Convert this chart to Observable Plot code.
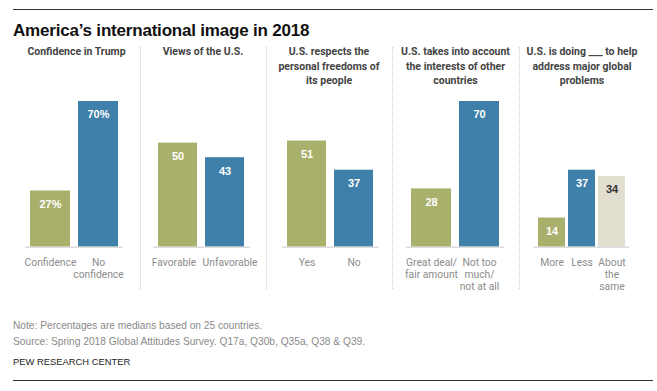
<!DOCTYPE html>
<html>
<head>
<meta charset="utf-8">
<script src="https://cdn.jsdelivr.net/npm/d3@7"></script>
<script src="https://cdn.jsdelivr.net/npm/@observablehq/plot@0.6"></script>
<style>
  html, body { margin: 0; padding: 0; background: #fff; }
  body { width: 657px; height: 391px; position: relative; overflow: hidden; font-family: "Liberation Sans", Arial, sans-serif; }
  .abs { position: absolute; }
  .rule { position: absolute; left: 13px; width: 640px; height: 0; border-top: 1.5px solid #333; z-index: 10; }
  #title { left: 13px; top: 20px; font-size: 17px; line-height: 22px; font-weight: bold; color: #111; letter-spacing: -0.2px; white-space: nowrap; }
  .ptitle { position: absolute; top: 45px; width: 126px; text-align: center; font-family: Roboto, "Liberation Sans", sans-serif; font-size: 10.5px; line-height: 14.5px; font-weight: bold; color: #444; white-space: pre-line; }
  .divider { position: absolute; top: 47px; height: 242px; width: 0; border-left: 1px dotted #cfcfcf; }
  .note { position: absolute; left: 13px; font-size: 10.2px; line-height: 16px; color: #8a8a8a; white-space: nowrap; }
  #pew { position: absolute; left: 13px; top: 355px; font-size: 9.4px; line-height: 14px; color: #222; white-space: nowrap; }
</style>
</head>
<body>
<script>
// ---- data ----
const chartTitle = "America\u2019s international image in 2018";
const panelTitles = [
  "Confidence in Trump",
  "Views of the U.S.",
  "U.S. respects the\npersonal freedoms of\nits people",
  "U.S. takes into account\nthe interests of other\ncountries",
  "U.S. is doing ___ to help\naddress major global\nproblems"
];
const categories = [
  ["Confidence", "No\nconfidence"],
  ["Favorable", "Unfavorable"],
  ["Yes", "No"],
  ["Great deal/\nfair amount", "Not too\nmuch/\nnot at all"],
  ["More", "Less", "About\nthe\nsame"]
];
const values = [
  [27, 70],
  [50, 43],
  [51, 37],
  [28, 70],
  [14, 37, 34]
];
const kinds = [
  ["pos", "neg"],
  ["pos", "neg"],
  ["pos", "neg"],
  ["pos", "neg"],
  ["pos", "neg", "neutral"]
];
const valueSuffix = ["%", "", "", "", ""];
const noteLines = [
  "Note: Percentages are medians based on 25 countries.",
  "Source: Spring 2018 Global Attitudes Survey. Q17a, Q30b, Q35a, Q38 & Q39."
];
const credit = "PEW RESEARCH CENTER";

// ---- layout (not data) ----
const panelBounds = [13, 140, 266, 392, 519, 645];
const bandRanges = [[25, 123], [153, 250], [282, 379], [406, 504], [533, 629]];
const labelNudge = [[0, 0], [-4, 5], [0, 0], [0, 0], [0, 0, 0]];
const fillColors = { pos: "#a8b06b", neg: "#3f80ab", neutral: "#e1ddcf" };
const textColors = { pos: "#ffffff", neg: "#ffffff", neutral: "#333333" };

function addDiv(cls, id, text, style) {
  const d = document.createElement("div");
  if (cls) d.className = cls;
  if (id) d.id = id;
  d.textContent = text;
  Object.assign(d.style, style || {});
  document.body.appendChild(d);
  return d;
}

addDiv("rule", null, "", { top: "9px" });
addDiv("abs", "title", chartTitle);
panelTitles.forEach((t, i) => {
  addDiv("ptitle", null, t, { left: panelBounds[i] + "px", width: (panelBounds[i + 1] - panelBounds[i]) + "px" });
});
[1, 2, 3, 4].forEach(i => addDiv("divider", null, "", { left: panelBounds[i] + "px" }));
noteLines.forEach((t, i) => addDiv("note", null, t, { top: (318 + i * 16) + "px" }));
addDiv(null, "pew", credit);
addDiv("rule", null, "", { top: "380px" });

const svgTop = 95, baseY = 246.7, topY = 101, svgHeight = 200;
const pad = 22;

categories.forEach((cats, i) => {
  const data = cats.map((c, j) => ({ cat: c, value: values[i][j], kind: kinds[i][j], label: values[i][j] + valueSuffix[i], nudge: labelNudge[i][j] }));
  const [r0, r1] = bandRanges[i];
  const n = cats.length;
  const pi = n === 3 ? 0.1 : 1 / 6;
  const po = n === 3 ? 0.15 : 0.104;
  const chart = Plot.plot({
    width: (r1 - r0) + 2 * pad,
    height: svgHeight,
    marginLeft: pad,
    marginRight: pad,
    marginTop: topY - svgTop,
    marginBottom: svgTop + svgHeight - baseY,
    style: { fontFamily: "Liberation Sans, Arial, sans-serif", background: "transparent", overflow: "visible" },
    x: { domain: cats, axis: null, paddingInner: pi, paddingOuter: po },
    y: { domain: [0, 70], axis: null },
    marks: [
      Plot.barY(data, { x: "cat", y: "value", fill: d => fillColors[d.kind] }),
      Plot.ruleY([0], { stroke: "#dcdcdc", strokeWidth: 1.5 }),
      Plot.text(data, { x: "cat", y: "value", text: "label", fill: d => textColors[d.kind], fontWeight: "bold", fontSize: 11, lineAnchor: "top", dy: 9 }),
      ...data.map(d => Plot.text([d], { x: "cat", y: () => 0, text: "cat", fill: "#8c8c8c", fontSize: 10.3, fontFamily: "Roboto, Liberation Sans, sans-serif", lineAnchor: "top", dy: 10, dx: d.nudge, lineHeight: 1.18 }))
    ]
  });
  chart.style.position = "absolute";
  chart.style.left = (r0 - pad) + "px";
  chart.style.top = svgTop + "px";
  document.body.appendChild(chart);
});
</script>
</body>
</html>
